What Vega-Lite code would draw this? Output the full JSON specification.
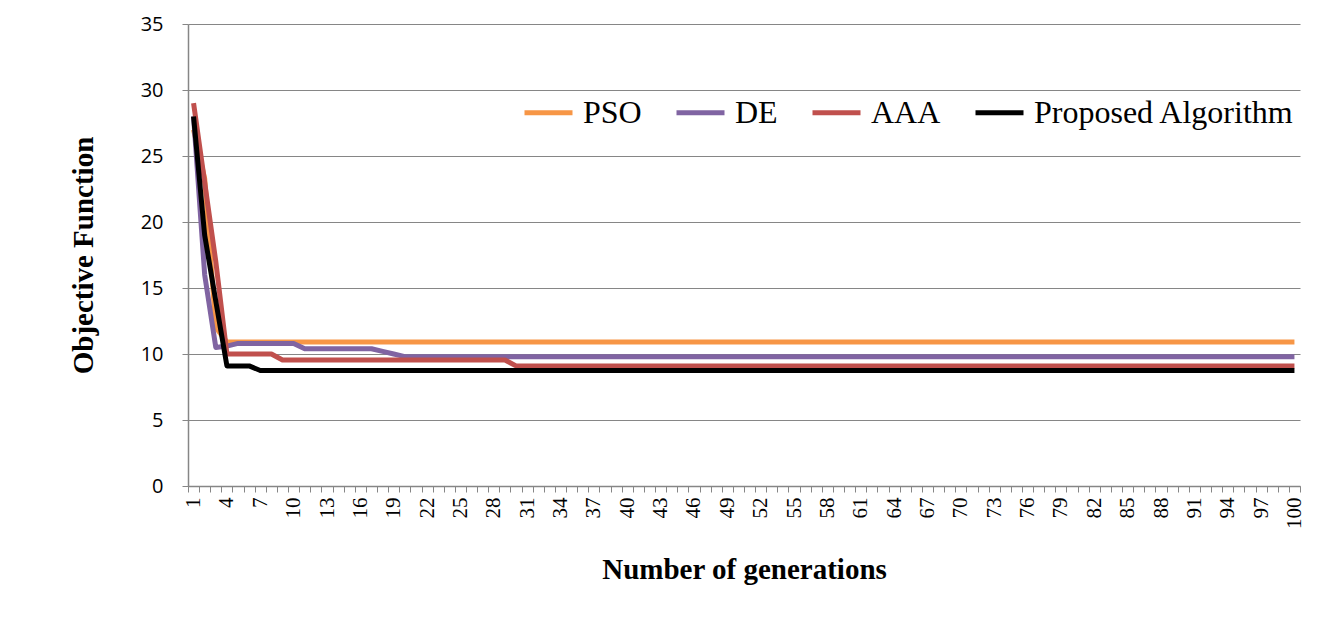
{
  "$schema": "https://vega.github.io/schema/vega-lite/v6.json",
  "autosize": {"type": "none"},
  "padding": {"left": 188, "top": 24, "right": 25, "bottom": 140},
  "width": 1112,
  "height": 462,
  "background": "white",
  "config": {
    "view": {"stroke": null},
    "axis": {"domainColor": "#868686", "tickColor": "#868686", "gridColor": "#868686", "labelColor": "black", "titleColor": "black"},
    "axisX": {"labelFont": "Liberation Serif", "labelFontSize": 21},
    "axisY": {"labelFont": "Open Sans", "labelFontSize": 20}
  },
  "data": {"values": [
    {"g":1,"PSO":27,"DE":28,"AAA":29,"Proposed Algorithm":28},
    {"g":2,"PSO":23.3,"DE":16,"AAA":23,"Proposed Algorithm":19},
    {"g":3,"PSO":12,"DE":10.5,"AAA":17,"Proposed Algorithm":14},
    {"g":4,"PSO":10.9,"DE":10.6,"AAA":10,"Proposed Algorithm":9.1},
    {"g":5,"PSO":10.9,"DE":10.8,"AAA":10,"Proposed Algorithm":9.1},
    {"g":6,"PSO":10.9,"DE":10.8,"AAA":10,"Proposed Algorithm":9.1},
    {"g":7,"PSO":10.9,"DE":10.8,"AAA":10,"Proposed Algorithm":8.75},
    {"g":8,"PSO":10.9,"DE":10.8,"AAA":10,"Proposed Algorithm":8.75},
    {"g":9,"PSO":10.9,"DE":10.8,"AAA":9.55,"Proposed Algorithm":8.75},
    {"g":10,"PSO":10.9,"DE":10.8,"AAA":9.55,"Proposed Algorithm":8.75},
    {"g":11,"PSO":10.9,"DE":10.4,"AAA":9.55,"Proposed Algorithm":8.75},
    {"g":12,"PSO":10.9,"DE":10.4,"AAA":9.55,"Proposed Algorithm":8.75},
    {"g":13,"PSO":10.9,"DE":10.4,"AAA":9.55,"Proposed Algorithm":8.75},
    {"g":14,"PSO":10.9,"DE":10.4,"AAA":9.55,"Proposed Algorithm":8.75},
    {"g":15,"PSO":10.9,"DE":10.4,"AAA":9.55,"Proposed Algorithm":8.75},
    {"g":16,"PSO":10.9,"DE":10.4,"AAA":9.55,"Proposed Algorithm":8.75},
    {"g":17,"PSO":10.9,"DE":10.4,"AAA":9.55,"Proposed Algorithm":8.75},
    {"g":18,"PSO":10.9,"DE":10.2,"AAA":9.55,"Proposed Algorithm":8.75},
    {"g":19,"PSO":10.9,"DE":10.0,"AAA":9.55,"Proposed Algorithm":8.75},
    {"g":20,"PSO":10.9,"DE":9.8,"AAA":9.55,"Proposed Algorithm":8.75},
    {"g":21,"PSO":10.9,"DE":9.8,"AAA":9.55,"Proposed Algorithm":8.75},
    {"g":22,"PSO":10.9,"DE":9.8,"AAA":9.55,"Proposed Algorithm":8.75},
    {"g":23,"PSO":10.9,"DE":9.8,"AAA":9.55,"Proposed Algorithm":8.75},
    {"g":24,"PSO":10.9,"DE":9.8,"AAA":9.55,"Proposed Algorithm":8.75},
    {"g":25,"PSO":10.9,"DE":9.8,"AAA":9.55,"Proposed Algorithm":8.75},
    {"g":26,"PSO":10.9,"DE":9.8,"AAA":9.55,"Proposed Algorithm":8.75},
    {"g":27,"PSO":10.9,"DE":9.8,"AAA":9.55,"Proposed Algorithm":8.75},
    {"g":28,"PSO":10.9,"DE":9.8,"AAA":9.55,"Proposed Algorithm":8.75},
    {"g":29,"PSO":10.9,"DE":9.8,"AAA":9.55,"Proposed Algorithm":8.75},
    {"g":30,"PSO":10.9,"DE":9.8,"AAA":9.1,"Proposed Algorithm":8.75},
    {"g":31,"PSO":10.9,"DE":9.8,"AAA":9.1,"Proposed Algorithm":8.75},
    {"g":32,"PSO":10.9,"DE":9.8,"AAA":9.1,"Proposed Algorithm":8.75},
    {"g":33,"PSO":10.9,"DE":9.8,"AAA":9.1,"Proposed Algorithm":8.75},
    {"g":34,"PSO":10.9,"DE":9.8,"AAA":9.1,"Proposed Algorithm":8.75},
    {"g":35,"PSO":10.9,"DE":9.8,"AAA":9.1,"Proposed Algorithm":8.75},
    {"g":36,"PSO":10.9,"DE":9.8,"AAA":9.1,"Proposed Algorithm":8.75},
    {"g":37,"PSO":10.9,"DE":9.8,"AAA":9.1,"Proposed Algorithm":8.75},
    {"g":38,"PSO":10.9,"DE":9.8,"AAA":9.1,"Proposed Algorithm":8.75},
    {"g":39,"PSO":10.9,"DE":9.8,"AAA":9.1,"Proposed Algorithm":8.75},
    {"g":40,"PSO":10.9,"DE":9.8,"AAA":9.1,"Proposed Algorithm":8.75},
    {"g":41,"PSO":10.9,"DE":9.8,"AAA":9.1,"Proposed Algorithm":8.75},
    {"g":42,"PSO":10.9,"DE":9.8,"AAA":9.1,"Proposed Algorithm":8.75},
    {"g":43,"PSO":10.9,"DE":9.8,"AAA":9.1,"Proposed Algorithm":8.75},
    {"g":44,"PSO":10.9,"DE":9.8,"AAA":9.1,"Proposed Algorithm":8.75},
    {"g":45,"PSO":10.9,"DE":9.8,"AAA":9.1,"Proposed Algorithm":8.75},
    {"g":46,"PSO":10.9,"DE":9.8,"AAA":9.1,"Proposed Algorithm":8.75},
    {"g":47,"PSO":10.9,"DE":9.8,"AAA":9.1,"Proposed Algorithm":8.75},
    {"g":48,"PSO":10.9,"DE":9.8,"AAA":9.1,"Proposed Algorithm":8.75},
    {"g":49,"PSO":10.9,"DE":9.8,"AAA":9.1,"Proposed Algorithm":8.75},
    {"g":50,"PSO":10.9,"DE":9.8,"AAA":9.1,"Proposed Algorithm":8.75},
    {"g":51,"PSO":10.9,"DE":9.8,"AAA":9.1,"Proposed Algorithm":8.75},
    {"g":52,"PSO":10.9,"DE":9.8,"AAA":9.1,"Proposed Algorithm":8.75},
    {"g":53,"PSO":10.9,"DE":9.8,"AAA":9.1,"Proposed Algorithm":8.75},
    {"g":54,"PSO":10.9,"DE":9.8,"AAA":9.1,"Proposed Algorithm":8.75},
    {"g":55,"PSO":10.9,"DE":9.8,"AAA":9.1,"Proposed Algorithm":8.75},
    {"g":56,"PSO":10.9,"DE":9.8,"AAA":9.1,"Proposed Algorithm":8.75},
    {"g":57,"PSO":10.9,"DE":9.8,"AAA":9.1,"Proposed Algorithm":8.75},
    {"g":58,"PSO":10.9,"DE":9.8,"AAA":9.1,"Proposed Algorithm":8.75},
    {"g":59,"PSO":10.9,"DE":9.8,"AAA":9.1,"Proposed Algorithm":8.75},
    {"g":60,"PSO":10.9,"DE":9.8,"AAA":9.1,"Proposed Algorithm":8.75},
    {"g":61,"PSO":10.9,"DE":9.8,"AAA":9.1,"Proposed Algorithm":8.75},
    {"g":62,"PSO":10.9,"DE":9.8,"AAA":9.1,"Proposed Algorithm":8.75},
    {"g":63,"PSO":10.9,"DE":9.8,"AAA":9.1,"Proposed Algorithm":8.75},
    {"g":64,"PSO":10.9,"DE":9.8,"AAA":9.1,"Proposed Algorithm":8.75},
    {"g":65,"PSO":10.9,"DE":9.8,"AAA":9.1,"Proposed Algorithm":8.75},
    {"g":66,"PSO":10.9,"DE":9.8,"AAA":9.1,"Proposed Algorithm":8.75},
    {"g":67,"PSO":10.9,"DE":9.8,"AAA":9.1,"Proposed Algorithm":8.75},
    {"g":68,"PSO":10.9,"DE":9.8,"AAA":9.1,"Proposed Algorithm":8.75},
    {"g":69,"PSO":10.9,"DE":9.8,"AAA":9.1,"Proposed Algorithm":8.75},
    {"g":70,"PSO":10.9,"DE":9.8,"AAA":9.1,"Proposed Algorithm":8.75},
    {"g":71,"PSO":10.9,"DE":9.8,"AAA":9.1,"Proposed Algorithm":8.75},
    {"g":72,"PSO":10.9,"DE":9.8,"AAA":9.1,"Proposed Algorithm":8.75},
    {"g":73,"PSO":10.9,"DE":9.8,"AAA":9.1,"Proposed Algorithm":8.75},
    {"g":74,"PSO":10.9,"DE":9.8,"AAA":9.1,"Proposed Algorithm":8.75},
    {"g":75,"PSO":10.9,"DE":9.8,"AAA":9.1,"Proposed Algorithm":8.75},
    {"g":76,"PSO":10.9,"DE":9.8,"AAA":9.1,"Proposed Algorithm":8.75},
    {"g":77,"PSO":10.9,"DE":9.8,"AAA":9.1,"Proposed Algorithm":8.75},
    {"g":78,"PSO":10.9,"DE":9.8,"AAA":9.1,"Proposed Algorithm":8.75},
    {"g":79,"PSO":10.9,"DE":9.8,"AAA":9.1,"Proposed Algorithm":8.75},
    {"g":80,"PSO":10.9,"DE":9.8,"AAA":9.1,"Proposed Algorithm":8.75},
    {"g":81,"PSO":10.9,"DE":9.8,"AAA":9.1,"Proposed Algorithm":8.75},
    {"g":82,"PSO":10.9,"DE":9.8,"AAA":9.1,"Proposed Algorithm":8.75},
    {"g":83,"PSO":10.9,"DE":9.8,"AAA":9.1,"Proposed Algorithm":8.75},
    {"g":84,"PSO":10.9,"DE":9.8,"AAA":9.1,"Proposed Algorithm":8.75},
    {"g":85,"PSO":10.9,"DE":9.8,"AAA":9.1,"Proposed Algorithm":8.75},
    {"g":86,"PSO":10.9,"DE":9.8,"AAA":9.1,"Proposed Algorithm":8.75},
    {"g":87,"PSO":10.9,"DE":9.8,"AAA":9.1,"Proposed Algorithm":8.75},
    {"g":88,"PSO":10.9,"DE":9.8,"AAA":9.1,"Proposed Algorithm":8.75},
    {"g":89,"PSO":10.9,"DE":9.8,"AAA":9.1,"Proposed Algorithm":8.75},
    {"g":90,"PSO":10.9,"DE":9.8,"AAA":9.1,"Proposed Algorithm":8.75},
    {"g":91,"PSO":10.9,"DE":9.8,"AAA":9.1,"Proposed Algorithm":8.75},
    {"g":92,"PSO":10.9,"DE":9.8,"AAA":9.1,"Proposed Algorithm":8.75},
    {"g":93,"PSO":10.9,"DE":9.8,"AAA":9.1,"Proposed Algorithm":8.75},
    {"g":94,"PSO":10.9,"DE":9.8,"AAA":9.1,"Proposed Algorithm":8.75},
    {"g":95,"PSO":10.9,"DE":9.8,"AAA":9.1,"Proposed Algorithm":8.75},
    {"g":96,"PSO":10.9,"DE":9.8,"AAA":9.1,"Proposed Algorithm":8.75},
    {"g":97,"PSO":10.9,"DE":9.8,"AAA":9.1,"Proposed Algorithm":8.75},
    {"g":98,"PSO":10.9,"DE":9.8,"AAA":9.1,"Proposed Algorithm":8.75},
    {"g":99,"PSO":10.9,"DE":9.8,"AAA":9.1,"Proposed Algorithm":8.75},
    {"g":100,"PSO":10.9,"DE":9.8,"AAA":9.1,"Proposed Algorithm":8.75}
  ]},
  "transform": [{"fold": ["PSO", "DE", "AAA", "Proposed Algorithm"], "as": ["series", "value"]}],
  "mark": {"type": "line", "strokeWidth": 5, "strokeJoin": "round"},
  "encoding": {
    "x": {
      "field": "g", "type": "quantitative",
      "scale": {"domain": [0.5, 100.5], "nice": false, "zero": false},
      "axis": {
        "title": "Number of generations",
        "titleFont": "Liberation Serif", "titleFontSize": 29, "titleFontWeight": "bold",
        "titleBaseline": "middle", "titleY": 83,
        "values": [0.5,1.5,2.5,3.5,4.5,5.5,6.5,7.5,8.5,9.5,10.5,11.5,12.5,13.5,14.5,15.5,16.5,17.5,18.5,19.5,20.5,21.5,22.5,23.5,24.5,25.5,26.5,27.5,28.5,29.5,30.5,31.5,32.5,33.5,34.5,35.5,36.5,37.5,38.5,39.5,40.5,41.5,42.5,43.5,44.5,45.5,46.5,47.5,48.5,49.5,50.5,51.5,52.5,53.5,54.5,55.5,56.5,57.5,58.5,59.5,60.5,61.5,62.5,63.5,64.5,65.5,66.5,67.5,68.5,69.5,70.5,71.5,72.5,73.5,74.5,75.5,76.5,77.5,78.5,79.5,80.5,81.5,82.5,83.5,84.5,85.5,86.5,87.5,88.5,89.5,90.5,91.5,92.5,93.5,94.5,95.5,96.5,97.5,98.5,99.5,100.5],
        "labelExpr": "(datum.value + 0.5) % 3 == 1 ? format(datum.value + 0.5, 'd') : ''",
        "labelOffset": 5.56,
        "labelAngle": 270, "labelAlign": "right", "labelBaseline": "middle",
        "labelFont": "Liberation Serif", "labelFontSize": 21, "labelPadding": 5,
        "labelOverlap": false, "labelBound": false, "labelFlush": false,
        "tickSize": 6, "tickWidth": 1, "domainWidth": 1.5, "grid": false
      }
    },
    "y": {
      "field": "value", "type": "quantitative",
      "scale": {"domain": [0, 35], "nice": false},
      "axis": {
        "title": "Objective Function",
        "titleFont": "Liberation Serif", "titleFontSize": 29, "titleFontWeight": "bold",
        "titleBaseline": "middle", "titleX": -105,
        "values": [0, 5, 10, 15, 20, 25, 30, 35],
        "labelFont": "Open Sans", "labelFontSize": 20, "labelPadding": 19,
        "tickSize": 6, "domainWidth": 1.5, "gridWidth": 1.2, "grid": true
      }
    },
    "color": {
      "field": "series", "type": "nominal",
      "scale": {"domain": ["PSO", "DE", "AAA", "Proposed Algorithm"], "range": ["#F79646", "#8064A2", "#C0504D", "#000000"]},
      "legend": {
        "title": null, "orient": "none", "direction": "horizontal",
        "legendX": 334, "legendY": 62,
        "symbolType": "stroke", "symbolSize": 2304, "symbolStrokeWidth": 5,
        "labelFont": "Liberation Serif", "labelFontSize": 32, "labelColor": "black", "labelLimit": 500,
        "labelOffset": 8, "columnPadding": 24, "padding": 0
      }
    }
  }
}
